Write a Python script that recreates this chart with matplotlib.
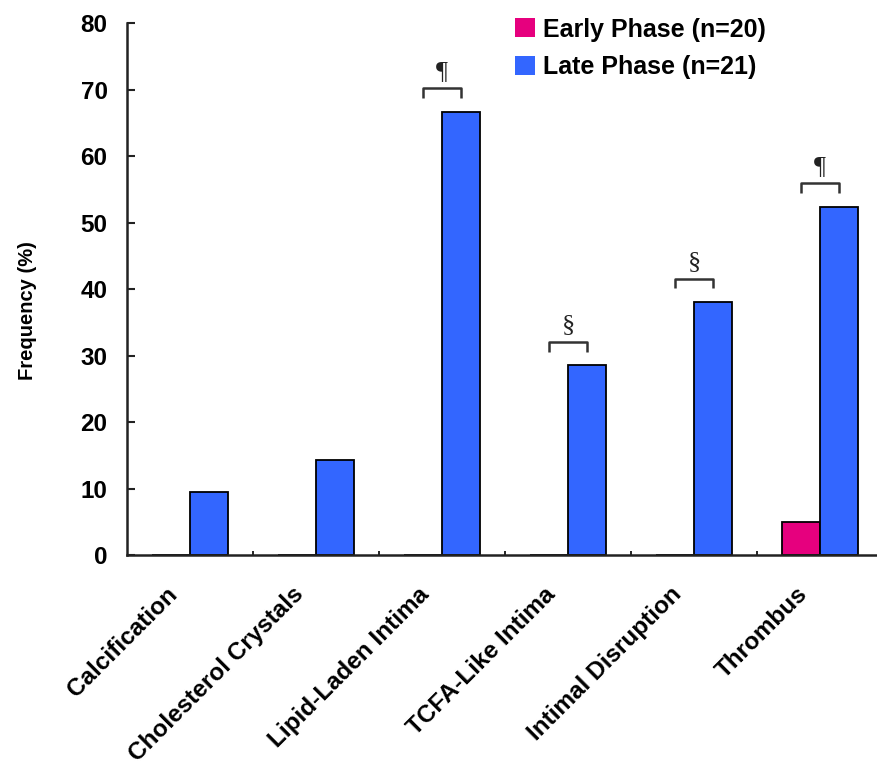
import numpy as np
import matplotlib.pyplot as plt
import matplotlib.transforms as mtransforms
from matplotlib.patches import Patch

# frequency of OCT findings by phase
categories = ["Calcification", "Cholesterol Crystals", "Lipid-Laden Intima",
              "TCFA-Like Intima", "Intimal Disruption", "Thrombus"]
early = [0.0, 0.0, 0.0, 0.0, 0.0, 5.0]
late = [9.5, 14.3, 66.7, 28.6, 38.1, 52.4]
marks = ["", "", "\u00b6", "\u00a7", "\u00a7", "\u00b6"]

early_color = "#E6007E"
late_color = "#3366FF"

fig = plt.figure(figsize=(8.77, 7.71), dpi=100)
ax = fig.add_axes([127 / 877, 1 - 555 / 771, 756 / 877, (555 - 23.3) / 771])

x = np.arange(len(categories))
w = 0.3
ax.bar(x - w / 2, early, w, color=early_color, edgecolor="black", linewidth=1.3, zorder=2)
ax.bar(x + w / 2, late, w, color=late_color, edgecolor="black", linewidth=1.3, zorder=2)

# significance brackets over the late bars
for i, m in enumerate(marks):
    if not m:
        continue
    top = late[i] + 3.5
    x0, x1 = i - w / 2, i + w / 2
    ax.plot([x0, x0, x1, x1], [top - 1.5, top, top, top - 1.5], color="#333333",
            linewidth=1.8, solid_capstyle="butt", clip_on=False)
    ax.text((x0 + x1) / 2, top + 0.8, m, ha="center", va="bottom",
            fontsize=19, family="Liberation Serif", color="#222222")

ax.set_xlim(-0.5, 5.5)
ax.set_ylim(0, 80)
ax.set_yticks(range(0, 81, 10))

for side in ["top", "right"]:
    ax.spines[side].set_visible(False)
for side in ["left", "bottom"]:
    ax.spines[side].set_linewidth(1.8)
    ax.spines[side].set_color("#222222")
    ax.spines[side].set_zorder(3)

ax.tick_params(axis="y", direction="in", length=6, width=1.5, pad=14,
               labelsize=17.5, color="#222222")
ax.set_xticks(x)
ax.set_xticks(x[:-1] + 0.5, minor=True)
ax.tick_params(axis="x", which="major", length=0, pad=20)
ax.tick_params(axis="x", which="minor", direction="in", length=3, width=1.2)
ax.set_xticklabels(categories, rotation=45, ha="right", fontsize=17.5, fontweight="bold",
                   family="Liberation Sans")
shift = mtransforms.ScaledTranslation(-8 / 100, 0, fig.dpi_scale_trans)
for lab in ax.get_xticklabels():
    lab.set_transform(lab.get_transform() + shift)
for lab in ax.get_yticklabels():
    lab.set_fontweight("bold")
    lab.set_family("Liberation Sans")

ax.set_ylabel("Frequency (%)", fontsize=14.5, fontweight="bold", family="Liberation Sans")
ax.yaxis.set_label_coords(-0.119, 0.46)

handles = [Patch(facecolor=early_color, edgecolor="none"),
           Patch(facecolor=late_color, edgecolor="none")]
ax.legend(handles, ["Early Phase (n=20)", "Late Phase (n=21)"], loc="upper left",
          bbox_to_anchor=(492 / 877, 1 + 5 / 771), bbox_transform=fig.transFigure,
          frameon=False, handlelength=0.8, handleheight=0.8, handletextpad=0.35,
          labelspacing=0.55, prop={"family": "Liberation Sans", "weight": "bold", "size": 18})

fig.savefig("out.png", dpi=100)
